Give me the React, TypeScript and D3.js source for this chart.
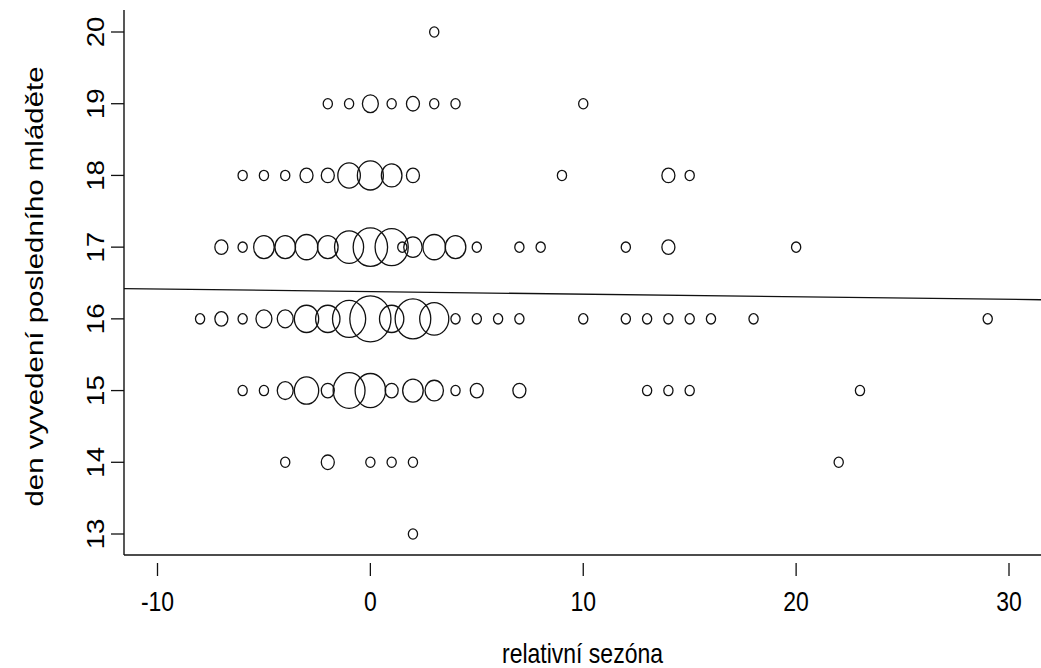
import React from "react";
import * as d3 from "d3";

// x = relativní sezóna, y = den vyvedení posledního mláděte, n = počet hnízd (velikost kruhu)
const row20x = [3];
const row20n = [1];
const row19x = [-2, -1, 0, 1, 2, 3, 4, 10];
const row19n = [1, 1, 3, 1, 2, 1, 1, 1];
const row18x = [-6, -5, -4, -3, -2, -1, 0, 1, 2, 9, 14, 15];
const row18n = [1, 1, 1, 2, 2, 6, 8, 5, 2, 1, 2, 1];
const row17x = [-7, -6, -5, -4, -3, -2, -1, 0, 1, 1.5, 2, 3, 4, 5, 7, 8, 12, 14, 20];
const row17n = [2, 1, 5, 5, 6, 5, 10, 14, 13, 1, 4, 6, 5, 1, 1, 1, 1, 2, 1];
const row16x = [-8, -7, -6, -5, -4, -3, -2, -1, 0, 1, 2, 3, 4, 5, 6, 7, 10, 12, 13, 14, 15, 16, 18, 29];
const row16n = [1, 2, 1, 3, 3, 7, 7, 13, 20, 7, 15, 10, 1, 1, 1, 1, 1, 1, 1, 1, 1, 1, 1, 1];
const row15x = [-6, -5, -4, -3, -2, -1, 0, 1, 2, 3, 4, 5, 7, 13, 14, 15, 23];
const row15n = [1, 1, 3, 7, 2, 12, 11, 2, 5, 4, 1, 2, 2, 1, 1, 1, 1];
const row14x = [-4, -2, 0, 1, 2, 22];
const row14n = [1, 2, 1, 1, 1, 1];
const row13x = [2];
const row13n = [1];

const xTicks = [-10, 0, 10, 20, 30];
const yTicks = [13, 14, 15, 16, 17, 18, 19, 20];
const fitIntercept = 16.38;
const fitSlope = -0.0036;

const rows: [number, number[], number[]][] = [
  [20, row20x, row20n],
  [19, row19x, row19n],
  [18, row18x, row18n],
  [17, row17x, row17n],
  [16, row16x, row16n],
  [15, row15x, row15n],
  [14, row14x, row14n],
  [13, row13x, row13n],
];

export default function App() {
  const W = 1041, H = 668;
  const left = 124, right = 1041, top = 10, bottom = 555;
  const stretch = 1.2;
  const x = d3.scaleLinear().domain([-10, 30]).range([157.5, 1009]);
  const y = d3.scaleLinear().domain([13, 20]).range([534, 32]);
  const r = d3.scaleSqrt().domain([0, 1]).range([0, 4.6]);
  const font = "'Liberation Sans', Arial, sans-serif";
  const fs = 23;
  const pts = rows.flatMap(([yy, xs, ns]) => xs.map((xx, i) => ({ x: xx, y: yy, n: ns[i] })));
  const x0 = x.invert(left), x1 = x.invert(right);
  const line = d3.line<number>().x((d) => x(d)).y((d) => y(fitIntercept + fitSlope * d));
  return (
    <svg width={W} height={H} style={{ position: "absolute", left: 0, top: 0, background: "#fff" }}>
      <g fill="none" stroke="#111" strokeWidth={1.3}>
        {pts.map((p, i) => (
          <ellipse key={i} cx={x(p.x)} cy={y(p.y)} rx={r(p.n)} ry={r(p.n) * 1.12} />
        ))}
      </g>
      <path d={line([x0, x1]) || ""} stroke="#111" strokeWidth={1.3} fill="none" />
      <line x1={left} x2={left} y1={top} y2={bottom} stroke="#111" strokeWidth={1.4} />
      <line x1={left} x2={right} y1={bottom} y2={bottom} stroke="#111" strokeWidth={1.4} />
      {xTicks.map((t) => (
        <g key={t}>
          <line x1={x(t)} x2={x(t)} y1={bottom + 8} y2={bottom + 21} stroke="#111" strokeWidth={1.3} />
          <text
            transform={`translate(${x(t)},${bottom + 56}) scale(1,${stretch})`}
            textAnchor="middle"
            fontFamily={font}
            fontSize={fs}
          >
            {t}
          </text>
        </g>
      ))}
      {yTicks.map((t) => (
        <g key={t}>
          <line x1={left - 13} x2={left} y1={y(t)} y2={y(t)} stroke="#111" strokeWidth={1.3} />
          <text
            transform={`translate(${left - 20},${y(t)}) rotate(-90) scale(${stretch},1)`}
            textAnchor="middle"
            fontFamily={font}
            fontSize={fs}
          >
            {t}
          </text>
        </g>
      ))}
      <text
        transform={`translate(${(left + right) / 2},${663}) scale(1,${stretch})`}
        textAnchor="middle"
        fontFamily={font}
        fontSize={fs}
      >
        relativní sezóna
      </text>
      <text
        transform={`translate(${43},${(top + bottom) / 2 + 4}) rotate(-90) scale(1.28,1)`}
        textAnchor="middle"
        fontFamily={font}
        fontSize={fs}
      >
        den vyvedení posledního mláděte
      </text>
    </svg>
  );
}
